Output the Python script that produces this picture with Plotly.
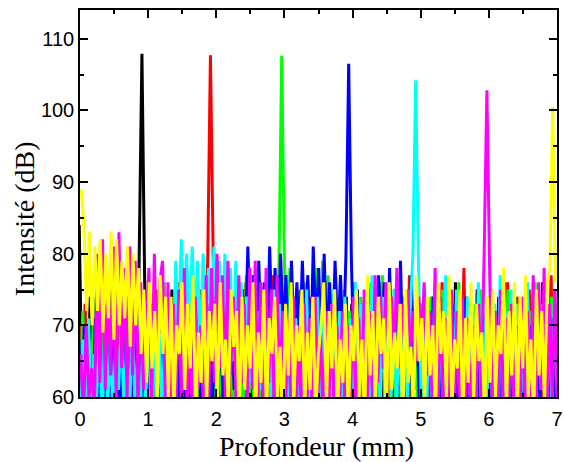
import plotly.graph_objects as go

# Depth sampling grid (mm): 0 to 7 mm, 176 samples, step 0.04 mm
depth = [round(0.04 * i, 3) for i in range(176)]
# Per-measurement start offset of the depth scan (mm)
scan_offset = {"black": -0.011, "red": -0.006, "green": 0.0, "blue": -0.017,
               "cyan": 0.006, "magenta": 0.011, "yellow": 0.017}

black = [
    84, 60, 72, 57, 74, 62, 70, 56, 73, 59, 69, 55, 75, 61, 71, 57,
    72, 58, 74, 60, 70, 57, 80, 107.9, 76, 58, 73, 60, 70, 56, 74, 61,
    71, 57, 75, 60, 69, 55, 73, 59, 72, 56, 76, 62, 70, 58, 74, 57,
    73, 60, 71, 56, 76, 59, 70, 55, 74, 61, 72, 57, 75, 58, 69, 56,
    74, 59, 70, 57, 75, 61, 72, 55, 73, 58, 77, 60, 71, 56, 74, 59,
    72, 57, 76, 60, 70, 56, 74, 62, 73, 58, 75, 55, 71, 60, 76, 57,
    70, 58, 74, 56, 73, 61, 75, 57, 71, 55, 74, 60, 72, 58, 76, 59,
    73, 56, 71, 60, 75, 57, 72, 59, 74, 55, 70, 61, 76, 58, 73, 57,
    72, 60, 74, 56, 71, 58, 75, 61, 73, 57, 76, 59, 70, 55, 74, 60,
    71, 57, 75, 59, 72, 56, 74, 60, 73, 58, 70, 55, 76, 61, 72, 57,
    74, 58, 71, 60, 75, 56, 73, 59, 70, 57, 76, 61, 72, 55, 74, 58,
]
red = [
    70, 57, 73, 60, 68, 55, 72, 59, 74, 56, 71, 61, 69, 58, 75, 57,
    71, 59, 73, 55, 70, 60, 74, 57, 72, 58, 69, 56, 75, 61, 70, 57,
    73, 56, 71, 60, 76, 58, 70, 55, 74, 61, 72, 57, 75, 59, 68, 79,
    107.7, 80, 62, 74, 57, 71, 60, 75, 56, 72, 59, 70, 58, 76, 55, 73,
    58, 72, 60, 75, 57, 71, 56, 77, 61, 73, 55, 70, 59, 74, 57, 72,
    60, 75, 56, 71, 58, 74, 61, 70, 55, 73, 59, 76, 57, 72, 60, 69,
    56, 74, 59, 71, 57, 76, 60, 72, 55, 70, 58, 75, 61, 73, 56, 71,
    59, 75, 57, 72, 60, 69, 55, 74, 58, 77, 56, 71, 61, 73, 57, 70,
    58, 74, 56, 72, 60, 76, 57, 70, 59, 73, 55, 75, 61, 78, 57, 71,
    60, 72, 56, 74, 58, 71, 61, 75, 55, 70, 59, 73, 57, 76, 60, 72,
    56, 74, 59, 70, 57, 75, 61, 72, 55, 73, 58, 71, 60, 77, 56, 73,
]
green = [
    57, 72, 60, 69, 56, 74, 59, 71, 55, 73, 61, 70, 58, 75, 57, 72,
    60, 70, 56, 74, 58, 72, 61, 69, 55, 75, 59, 71, 57, 73, 60, 76,
    56, 72, 59, 75, 57, 70, 61, 73, 55, 76, 58, 71, 60, 74, 57, 72,
    59, 70, 56, 74, 60, 72, 55, 75, 58, 71, 61, 73, 57, 77, 59, 70,
    56, 74, 60, 72, 57, 75, 59, 71, 58, 78, 107.6, 79, 62, 78, 58, 74,
    60, 72, 57, 76, 59, 73, 56, 78, 61, 79, 58, 77, 62, 74, 57, 71,
    59, 75, 56, 72, 60, 70, 57, 74, 61, 73, 55, 76, 58, 75, 60, 77,
    57, 76, 60, 72, 56, 74, 59, 71, 61, 75, 57, 70, 58, 73, 55, 72,
    60, 74, 57, 71, 59, 75, 56, 72, 61, 70, 58, 76, 57, 73, 60, 71,
    56, 73, 59, 75, 57, 71, 60, 74, 55, 72, 58, 70, 61, 75, 57, 72,
    59, 71, 56, 74, 60, 72, 57, 76, 58, 73, 61, 70, 55, 74, 59, 71,
]
blue = [
    68, 56, 70, 58, 66, 55, 71, 59, 67, 57, 72, 56, 69, 60, 65, 57,
    70, 58, 67, 55, 72, 59, 68, 56, 75, 57, 69, 60, 66, 55, 71, 58,
    67, 56, 72, 59, 69, 55, 70, 58, 66, 57, 73, 60, 68, 56, 71, 59,
    69, 57, 73, 60, 71, 58, 74, 62, 72, 61, 76, 64, 75, 66, 81, 68,
    77, 65, 79, 67, 76, 64, 81, 68, 78, 66, 80, 69, 77, 65, 79, 67,
    76, 66, 79, 68, 77, 64, 81, 69, 78, 65, 80, 67, 76, 66, 79, 68,
    77, 66, 80, 106.5, 79, 64, 75, 62, 73, 60, 76, 63, 74, 61, 77, 64,
    76, 62, 78, 65, 75, 61, 79, 63, 74, 60, 77, 62, 72, 58, 70, 57,
    71, 58, 74, 56, 70, 59, 72, 57, 69, 60, 73, 55, 71, 58, 74, 57,
    70, 56, 72, 59, 69, 57, 73, 60, 71, 55, 74, 58, 70, 56, 72, 59,
    69, 57, 73, 60, 71, 55, 70, 58, 74, 57, 72, 59, 69, 56, 71, 58,
]
cyan = [
    56, 68, 58, 71, 57, 66, 60, 70, 55, 72, 59, 67, 57, 69, 61, 70,
    58, 68, 56, 72, 59, 66, 57, 70, 60, 71, 56, 67, 58, 69, 55, 72,
    60, 70, 64, 79, 68, 82, 70, 80, 67, 81, 71, 79, 66, 80, 72, 78,
    68, 81, 70, 79, 66, 80, 69, 78, 65, 79, 67, 76, 64, 74, 62, 73,
    59, 72, 61, 74, 58, 71, 60, 75, 57, 73, 59, 70, 56, 74, 60, 71,
    58, 73, 60, 75, 57, 71, 59, 74, 56, 72, 61, 70, 58, 75, 57, 72,
    60, 74, 58, 71, 57, 76, 59, 73, 61, 70, 56, 77, 60, 72, 58, 74,
    57, 73, 60, 75, 58, 71, 56, 74, 59, 72, 80, 104.2, 79, 60, 74, 58,
    72, 57, 76, 60, 71, 58, 77, 56, 73, 59, 75, 61, 70, 57, 74, 60,
    72, 57, 76, 59, 71, 56, 74, 60, 73, 58, 77, 55, 72, 59, 75, 57,
    73, 60, 70, 56, 76, 59, 72, 57, 74, 61, 71, 55, 73, 58, 75, 59,
]
magenta = [
    66, 57, 70, 60, 64, 58, 80, 62, 82, 61, 77, 63, 81, 60, 83, 64,
    78, 60, 81, 63, 79, 58, 76, 61, 70, 78, 59, 80, 62, 76, 79, 60,
    76, 58, 73, 60, 75, 57, 78, 59, 71, 56, 74, 61, 70, 58, 77, 60,
    78, 62, 80, 64, 77, 60, 79, 63, 74, 59, 77, 62, 73, 58, 78, 61,
    79, 60, 76, 58, 78, 62, 75, 57, 77, 59, 72, 56, 71, 60, 74, 57,
    70, 56, 73, 59, 71, 57, 74, 60, 69, 55, 72, 58, 73, 56, 70, 59,
    72, 57, 70, 60, 74, 56, 71, 59, 75, 57, 72, 60, 77, 62, 74, 64,
    76, 65, 74, 66, 78, 64, 73, 67, 75, 66, 72, 65, 74, 68, 76, 63,
    72, 58, 78, 60, 74, 57, 71, 59, 75, 56, 72, 60, 74, 58, 71, 57,
    70, 58, 73, 60, 80, 102.8, 78, 57, 72, 59, 75, 56, 71, 60, 73, 57,
    70, 59, 74, 56, 72, 60, 77, 58, 76, 61, 78, 57, 73, 60, 75, 58,
]
yellow = [
    89, 84, 72, 83, 70, 81, 72, 82, 69, 80, 71, 83, 68, 82, 70, 79,
    71, 81, 67, 80, 70, 78, 66, 75, 62, 76, 64, 72, 60, 77, 66, 74,
    60, 74, 58, 70, 66, 76, 61, 73, 64, 77, 57, 69, 62, 75, 59, 72,
    65, 73, 58, 76, 63, 68, 59, 75, 67, 72, 56, 74, 61, 70, 64, 76,
    58, 69, 62, 75, 57, 71, 66, 74, 60, 67, 55, 73, 63, 76, 59, 70,
    65, 75, 58, 69, 61, 74, 57, 66, 70, 76, 59, 72, 64, 75, 56, 68,
    62, 73, 57, 70, 65, 75, 60, 68, 56, 77, 63, 72, 58, 74, 66, 71,
    57, 76, 61, 69, 64, 73, 56, 75, 62, 67, 58, 77, 65, 71, 59, 74,
    63, 70, 57, 76, 66, 72, 60, 77, 58, 68, 64, 75, 56, 71, 62, 76,
    59, 73, 65, 69, 57, 74, 62, 75, 60, 70, 66, 78, 58, 72, 63, 76,
    57, 74, 64, 77, 60, 68, 56, 75, 63, 72, 59, 76, 78, 100.5, 76, 80,
]

series = [
    ("black", black, "#000000"),
    ("red", red, "#FF0000"),
    ("green", green, "#00FF00"),
    ("blue", blue, "#0000FF"),
    ("cyan", cyan, "#00FFFF"),
    ("magenta", magenta, "#FF00FF"),
    ("yellow", yellow, "#FFFF00"),
]

x_ticks = [0, 1, 2, 3, 4, 5, 6, 7]
y_ticks = [60, 70, 80, 90, 100, 110]

fig = go.Figure()
for name, vals, col in series:
    xs = [d + scan_offset[name] for d in depth[:len(vals)]]
    fig.add_trace(go.Scatter(x=xs, y=vals, mode="lines", name=name,
                             line=dict(color=col, width=3), showlegend=False))

tick_font = dict(family="Liberation Sans", size=20, color="black")
title_font = dict(family="Liberation Serif", size=28, color="black")

axis_common = dict(
    showline=True, linecolor="black", linewidth=1.5, mirror="ticks",
    ticks="inside", ticklen=8, tickwidth=1.5, tickcolor="black",
    showgrid=False, zeroline=False, automargin=False,
    tickfont=tick_font,
)

fig.update_xaxes(
    range=[0, 7], tickvals=x_ticks, ticklabelstandoff=3,
    minor=dict(dtick=0.5, ticks="inside", ticklen=4, tickwidth=1.5, tickcolor="black", showgrid=False),
    **axis_common,
)
fig.update_yaxes(
    range=[60, 114], tickvals=y_ticks,
    minor=dict(dtick=5, ticks="inside", ticklen=4, tickwidth=1.5, tickcolor="black", showgrid=False),
    **axis_common,
)

fig.update_layout(
    width=564, height=462,
    margin=dict(l=80, r=7, t=10, b=65),
    plot_bgcolor="white", paper_bgcolor="white",
    showlegend=False,
    annotations=[
        dict(text="Profondeur (mm)", xref="paper", yref="paper", x=0.495, y=-0.127,
             xanchor="center", yanchor="middle", showarrow=False, font=title_font),
        dict(text="Intensité (dB)", xref="paper", yref="paper", x=-0.115, y=0.46,
             xanchor="center", yanchor="middle", textangle=-90, showarrow=False, font=title_font),
    ],
)

fig.write_html("out.html", config={"displayModeBar": False},
               post_script="document.body.style.margin='0px';")
